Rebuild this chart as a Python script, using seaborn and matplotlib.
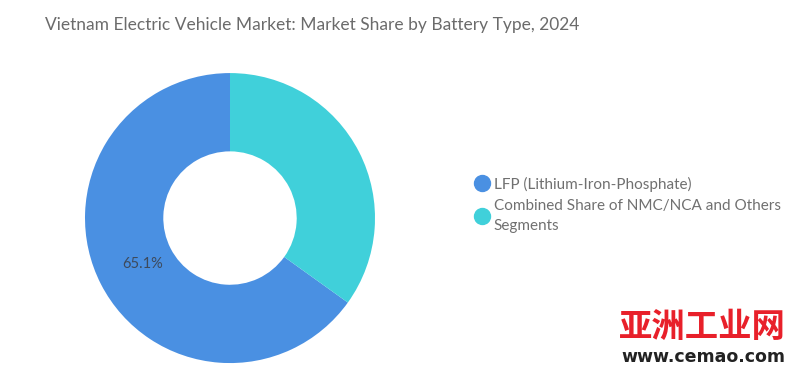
import seaborn as sns
from matplotlib import pyplot as plt
from matplotlib.lines import Line2D

labels = ["LFP (Lithium-Iron-Phosphate)", "Combined Share of NMC/NCA and Others\nSegments"]
shares = [65.1, 34.9]
colors = ["#4A90E2", "#40D0DA"]

sns.set_theme(style="white")
plt.rcParams['font.family'] = ['Lato', 'DejaVu Sans']

fig = plt.figure(figsize=(8, 3.72), dpi=100)
fig.patch.set_facecolor("white")

fig.text(0.056, 0.932, "Vietnam Electric Vehicle Market: Market Share by Battery Type, 2024",
         fontsize=12.5, color="#6b6b6b", va="center", ha="left")

ax = fig.add_axes([0.10625, 0.024, 0.3625, 0.7796])
wedges, _ = ax.pie(shares, colors=colors, startangle=90, counterclock=True,
                   wedgeprops=dict(width=0.54, edgecolor="white", linewidth=0))
ax.set_xlim(-1, 1)
ax.set_ylim(-1, 1)
ax.set_aspect("equal")
ax.axis("off")

ax.text(-0.6, -0.32, f"{shares[0]}%", fontsize=10.5, color="#3d4a5c", ha="center", va="center")

handles = [Line2D([0], [0], marker="o", color="none", markerfacecolor=c, markeredgecolor=c,
                  markersize=11.5) for c in colors]
leg = fig.legend(handles, labels, loc="upper left", bbox_to_anchor=(0.583, 0.542),
                 frameon=False, fontsize=11, handletextpad=0.2, handlelength=1.2,
                 labelspacing=0.5, borderaxespad=0)
for t in leg.get_texts():
    t.set_color("#707070")
    t.set_linespacing(1.5)

# watermark
fig.text(0.982, 0.12, "亚洲工业网", fontsize=24, color="#e8202a", fontweight="bold",
         ha="right", va="center", family=['Noto Sans CJK SC', 'DejaVu Sans'])
fig.text(0.982, 0.04, "www.cemao.com", fontsize=12.5, color="#222222", fontweight="bold",
         ha="right", va="center", family=['DejaVu Sans'])

fig.savefig("out.png", dpi=100)
